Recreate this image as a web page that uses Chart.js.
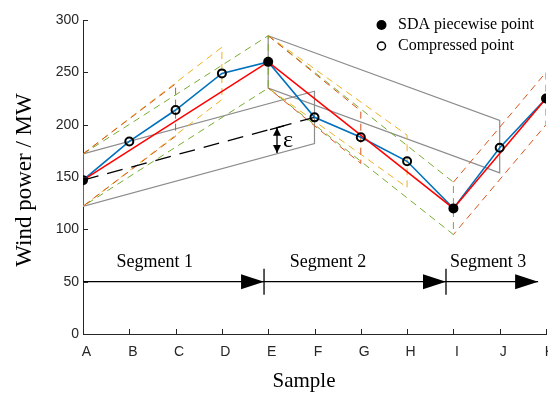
<!DOCTYPE html>
<html>
<head>
<meta charset="utf-8">
<script src="https://cdn.jsdelivr.net/npm/chart.js@4.4.1/dist/chart.umd.min.js"></script>
<style>
    html, body { margin: 0; padding: 0; background: #fff; overflow: hidden; }
    #wrap { width: 570px; height: 394px; }
</style>
</head>
<body>
<div id="wrap"><canvas id="sdaChart" width="570" height="394"></canvas></div>
<script>
// Sample labels along the x axis
const sampleLabels = ['A', 'B', 'C', 'D', 'E', 'F', 'G', 'H', 'I', 'J', 'K'];
// Original wind power samples (MW)
const windPower = [147, 184, 214, 249, 260, 207, 188, 165, 120, 178, 225];
// Which samples are kept by SDA and which are compressed away
const sdaIdx = [0, 4, 8, 10];
const compressedIdx = [1, 2, 3, 5, 6, 7, 9];

// Swinging doors: pivot sample, pivot upper/lower, end samples and their upper/lower
const doorStart = [0, 4, 8];
const doorStartUp = [172, 285, 145];
const doorStartLow = [122, 235, 95];
const doorEnd = [[2, 3, 4], [6, 7, 8], [10]];
const doorEndUp = [[239, 274, 285], [213, 190, 145], [250]];
const doorEndLow = [[189, 224, 235], [163, 140, 95], [200]];

// Gray tolerance boxes
const boxX = [[0, 5], [4, 9]];
const boxUp = [[172, 232], [285, 204]];
const boxLow = [[122, 182], [235, 154]];

// Trial line A -> F and the epsilon marker
const trialX = [0, 5];
const trialY = [147, 207];
const epsX = 4.19;
const epsTop = 197;
const epsBottom = 173;

// Segment arrows
const segNames = ['Segment 1', 'Segment 2', 'Segment 3'];
const segStart = [0, 3.91, 7.84];
const segEnd = [3.91, 7.84, 9.83];
const segLabelX = [1.55, 5.29, 8.75];
const segLevel = 50;
const segLabelLevel = 69;

const doorColors = ['#D95319', '#EDB120', '#77AC30'];
const SERIF = '"Liberation Serif", "Times New Roman", serif';

function pts(xs, ys) {
    return xs.map((x, i) => ({ x: x, y: ys[i] }));
}

function buildDatasets() {
    const sets = [];

    // markers on top
    sets.push({
        label: 'SDA piecewise point',
        data: sdaIdx.map(i => ({ x: i, y: windPower[i] })),
        showLine: false,
        pointRadius: 5,
        pointBackgroundColor: '#000',
        pointBorderColor: '#000',
        pointBorderWidth: 0
    });
    sets.push({
        label: 'Compressed point',
        data: compressedIdx.map(i => ({ x: i, y: windPower[i] })),
        showLine: false,
        pointRadius: 4,
        pointBackgroundColor: 'rgba(255,255,255,0)',
        pointBorderColor: '#000',
        pointBorderWidth: 2
    });

    // SDA piecewise result
    sets.push({
        label: 'sda',
        data: sdaIdx.map(i => ({ x: i, y: windPower[i] })),
        borderColor: '#FF0000',
        borderWidth: 1.6,
        pointRadius: 0
    });
    // original series
    sets.push({
        label: 'raw',
        data: windPower.map((v, i) => ({ x: i, y: v })),
        borderColor: '#0072BD',
        borderWidth: 1.6,
        pointRadius: 0
    });

    // trial line
    sets.push({
        label: 'trial',
        data: pts(trialX, trialY),
        borderColor: '#000',
        borderWidth: 1.3,
        borderDash: [16, 9],
        pointRadius: 0
    });

    // segment arrow shafts
    segStart.forEach((s, i) => {
        sets.push({
            label: 'seg' + i,
            data: [{ x: s, y: segLevel }, { x: segEnd[i], y: segLevel }],
            borderColor: '#000',
            borderWidth: 1.3,
            pointRadius: 0
        });
    });

    // swinging doors
    doorStart.forEach((s, k) => {
        doorEnd[k].forEach((e, j) => {
            const color = k === 2 ? doorColors[0] : doorColors[j];
            sets.push({
                label: 'door',
                data: [
                    { x: s, y: doorStartUp[k] },
                    { x: e, y: doorEndUp[k][j] },
                    { x: e, y: doorEndLow[k][j] },
                    { x: s, y: doorStartLow[k] }
                ],
                borderColor: color,
                borderWidth: 1,
                borderDash: [7, 5],
                pointRadius: 0
            });
        });
    });

    // gray boxes
    boxX.forEach((bx, k) => {
        sets.push({
            label: 'box',
            data: [
                { x: bx[0], y: boxUp[k][0] },
                { x: bx[1], y: boxUp[k][1] },
                { x: bx[1], y: boxLow[k][1] },
                { x: bx[0], y: boxLow[k][0] },
                { x: bx[0], y: boxUp[k][0] }
            ],
            borderColor: '#8c8c8c',
            borderWidth: 1.2,
            pointRadius: 0
        });
    });

    return sets;
}

function arrowHead(ctx, tipX, tipY, len, half, dir) {
    ctx.beginPath();
    ctx.moveTo(tipX, tipY);
    ctx.lineTo(tipX - dir * len, tipY - half);
    ctx.lineTo(tipX - dir * len, tipY + half);
    ctx.closePath();
    ctx.fill();
}

const annotate = {
    id: 'annotate',
    afterDatasetsDraw(chart) {
        const ctx = chart.ctx;
        const x = chart.scales.x;
        const y = chart.scales.y;
        const area = chart.chartArea;
        ctx.save();

        // inner tick marks
        ctx.strokeStyle = '#262626';
        ctx.lineWidth = 1;
        ctx.beginPath();
        sampleLabels.forEach((l, i) => {
            const px = Math.round(x.getPixelForValue(i)) + 0.5;
            ctx.moveTo(px, area.bottom);
            ctx.lineTo(px, area.bottom - 5);
        });
        [0, 50, 100, 150, 200, 250, 300].forEach(v => {
            const py = Math.round(y.getPixelForValue(v)) + 0.5;
            ctx.moveTo(area.left, py);
            ctx.lineTo(area.left + 5, py);
        });
        ctx.stroke();

        // segment arrows: heads, separators, labels
        ctx.fillStyle = '#000';
        ctx.strokeStyle = '#000';
        ctx.lineWidth = 1.3;
        const ly = y.getPixelForValue(segLevel);
        segEnd.forEach(e => {
            arrowHead(ctx, x.getPixelForValue(e), ly, 23, 7.5, 1);
        });
        ctx.beginPath();
        [segStart[1], segStart[2]].forEach(s => {
            const px = x.getPixelForValue(s);
            ctx.moveTo(px, ly - 13);
            ctx.lineTo(px, ly + 13);
        });
        ctx.stroke();

        ctx.font = '18px ' + SERIF;
        ctx.textAlign = 'center';
        ctx.textBaseline = 'middle';
        segNames.forEach((n, i) => {
            ctx.fillText(n, x.getPixelForValue(segLabelX[i]), y.getPixelForValue(segLabelLevel));
        });

        // epsilon marker
        const ex = x.getPixelForValue(epsX);
        const et = y.getPixelForValue(epsTop);
        const eb = y.getPixelForValue(epsBottom);
        ctx.lineWidth = 1.3;
        ctx.beginPath();
        ctx.moveTo(ex, et);
        ctx.lineTo(ex, eb);
        const slope = (y.getPixelForValue(trialY[1]) - y.getPixelForValue(trialY[0])) /
            (x.getPixelForValue(trialX[1]) - x.getPixelForValue(trialX[0]));
        ctx.moveTo(ex - 7, et - 7 * slope);
        ctx.lineTo(ex + 7, et + 7 * slope);
        ctx.stroke();
        ctx.beginPath();
        ctx.moveTo(ex, et);
        ctx.lineTo(ex - 4, et + 8);
        ctx.lineTo(ex + 4, et + 8);
        ctx.closePath();
        ctx.fill();
        ctx.beginPath();
        ctx.moveTo(ex, eb);
        ctx.lineTo(ex - 4, eb - 8);
        ctx.lineTo(ex + 4, eb - 8);
        ctx.closePath();
        ctx.fill();
        ctx.font = '24px ' + SERIF;
        ctx.textAlign = 'left';
        ctx.textBaseline = 'alphabetic';
        ctx.fillText('ε', ex + 6, (et + eb) / 2 + 7);

        // legend
        ctx.font = '16px ' + SERIF;
        ctx.textBaseline = 'middle';
        ctx.fillStyle = '#000';
        ctx.beginPath();
        ctx.arc(381.5, 25, 5, 0, Math.PI * 2);
        ctx.fill();
        ctx.fillText('SDA piecewise point', 398, 25);
        ctx.beginPath();
        ctx.arc(381.5, 46, 4, 0, Math.PI * 2);
        ctx.lineWidth = 1.5;
        ctx.stroke();
        ctx.fillText('Compressed point', 398, 46);

        // axis titles
        ctx.font = '21px ' + SERIF;
        ctx.textAlign = 'center';
        ctx.textBaseline = 'alphabetic';
        ctx.fillText('Sample', 304, 387);
        ctx.save();
        ctx.translate(31, (area.top + area.bottom) / 2 + 3);
        ctx.rotate(-Math.PI / 2);
        ctx.font = '23px ' + SERIF;
        ctx.fillText('Wind power / MW', 0, 0);
        ctx.restore();

        ctx.restore();
    }
};

document.addEventListener('DOMContentLoaded', function() {
    const canvas = document.getElementById('sdaChart');
    new Chart(canvas.getContext('2d'), {
        type: 'line',
        data: { datasets: buildDatasets() },
        options: {
            responsive: false,
            devicePixelRatio: 1,
            animation: false,
            layout: { padding: { top: 20, right: 24, left: 0, bottom: 0 } },
            plugins: {
                legend: { display: false },
                tooltip: { enabled: false }
            },
            elements: { line: { tension: 0 } },
            scales: {
                x: {
                    type: 'linear',
                    min: 0,
                    max: 10,
                    afterFit: s => { s.height = 60; },
                    grid: { display: false, drawTicks: false },
                    border: { display: true, color: '#262626', width: 1 },
                    ticks: {
                        stepSize: 1,
                        padding: 10,
                        labelOffset: 3.5,
                        maxRotation: 0,
                        autoSkip: false,
                        color: '#262626',
                        font: { family: '"Liberation Sans", Arial, sans-serif', size: 14 },
                        callback: v => sampleLabels[v]
                    }
                },
                y: {
                    min: 0,
                    max: 300,
                    afterFit: s => { s.width = 83; },
                    grid: { display: false, drawTicks: false },
                    border: { display: true, color: '#262626', width: 1 },
                    ticks: {
                        stepSize: 50,
                        padding: 4,
                        color: '#262626',
                        font: { family: '"Liberation Sans", Arial, sans-serif', size: 14 }
                    }
                }
            }
        },
        plugins: [annotate]
    });
});
</script>
</body>
</html>
